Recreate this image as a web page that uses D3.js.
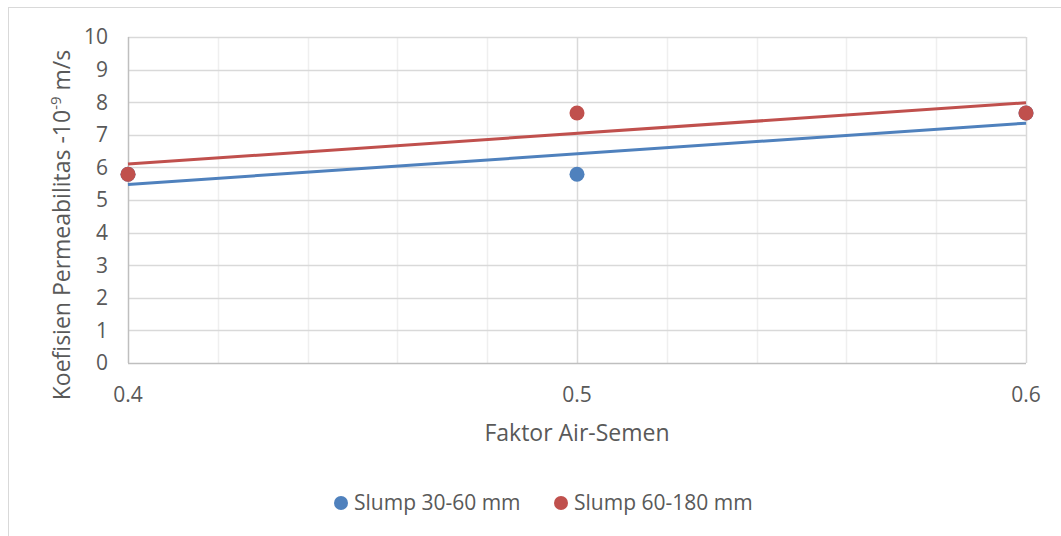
<!DOCTYPE html>
<html lang="id">
<head>
<meta charset="UTF-8">
<title>Koefisien Permeabilitas</title>
<script src="https://cdn.jsdelivr.net/npm/d3@7/dist/d3.min.js"></script>
<style>
  body, html { margin: 0; background: #fff; }
  svg { display: block; font-family: "Open Sans", sans-serif; }
</style>
</head>
<body>
<svg width="1061" height="536"></svg>
<script>
const xValues = [0.4, 0.5, 0.6];
const slump3060 = [5.79, 5.79, 7.67];
const slump60180 = [5.79, 7.67, 7.67];
const seriesNames = ["Slump 30-60 mm", "Slump 60-180 mm"];
const seriesColors = ["#4f81bd", "#c0504d"];
const yTicks = [0,1,2,3,4,5,6,7,8,9,10];
const xLabelTicks = [0.4, 0.5, 0.6];
const xMinorTicks = [0.42,0.44,0.46,0.48,0.52,0.54,0.56,0.58];

(function(){
  const svg = d3.select('svg');
  const W = 1061, H = 536;
  const m = {left:128, right:1026, top:37, bottom:363};
  const x = d3.scaleLinear().domain([0.4,0.6]).range([m.left,m.right]);
  const y = d3.scaleLinear().domain([0,10]).range([m.bottom,m.top]);
  const textCol = '#595959';

  // chart border
  svg.append('rect').attr('x',8.5).attr('y',7.5).attr('width',W+10).attr('height',H+10)
    .attr('fill','#fff').attr('stroke','#d9d9d9').attr('stroke-width',1);

  // minor vertical grid
  svg.append('g').selectAll('line').data(xMinorTicks).join('line')
    .attr('x1',d=>Math.round(x(d))+0.5).attr('x2',d=>Math.round(x(d))+0.5)
    .attr('y1',m.top).attr('y2',m.bottom)
    .attr('stroke','#efefef').attr('stroke-width',1.5);
  // horizontal grid
  svg.append('g').selectAll('line').data(yTicks.slice(1)).join('line')
    .attr('x1',m.left).attr('x2',m.right)
    .attr('y1',d=>Math.round(y(d))+0.5).attr('y2',d=>Math.round(y(d))+0.5)
    .attr('stroke','#d9d9d9').attr('stroke-width',1.5);
  // major vertical grid
  svg.append('g').selectAll('line').data(xLabelTicks.slice(1)).join('line')
    .attr('x1',d=>Math.round(x(d))+0.5).attr('x2',d=>Math.round(x(d))+0.5)
    .attr('y1',m.top).attr('y2',m.bottom)
    .attr('stroke','#d9d9d9').attr('stroke-width',1.5);
  // axes lines
  svg.append('line').attr('x1',m.left+0.5).attr('x2',m.left+0.5).attr('y1',m.top).attr('y2',m.bottom)
    .attr('stroke','#bfbfbf').attr('stroke-width',1.5);
  svg.append('line').attr('x1',m.left).attr('x2',m.right).attr('y1',m.bottom+0.5).attr('y2',m.bottom+0.5)
    .attr('stroke','#bfbfbf').attr('stroke-width',1.5);

  // tick labels
  svg.append('g').selectAll('text').data(yTicks).join('text')
    .attr('x',m.left-20).attr('y',d=>y(d)).attr('dy','0.35em')
    .attr('text-anchor','end').attr('fill',textCol).style('font-size','21px')
    .text(d=>d);
  svg.append('g').selectAll('text').data(xLabelTicks).join('text')
    .attr('x',d=>x(d)).attr('y',m.bottom+39)
    .attr('text-anchor','middle').attr('fill',textCol).style('font-size','21px')
    .text(d=>d3.format('.1f')(d));

  // axis titles
  svg.append('text').attr('x',x(0.5)).attr('y',441).attr('text-anchor','middle')
    .attr('fill',textCol).style('font-size','23px').text('Faktor Air-Semen');
  const yt = svg.append('text').attr('transform','translate(70,225) rotate(-90)')
    .attr('text-anchor','middle').attr('fill',textCol).style('font-size','23px');
  yt.append('tspan').text('Koefisien Permeabilitas -10');
  yt.append('tspan').attr('dy','-9').style('font-size','15px').text('-9');
  yt.append('tspan').attr('dy','9').text(' m/s');

  // data + trendlines
  const seriesData = [slump3060, slump60180];
  function fit(ys){
    const mx = d3.mean(xValues), my = d3.mean(ys);
    const b = d3.sum(xValues,(v,i)=>(v-mx)*(ys[i]-my))/d3.sum(xValues,v=>(v-mx)*(v-mx));
    return [b, my-b*mx];
  }
  const line = d3.line().x(d=>x(d[0])).y(d=>y(d[1]));
  seriesData.forEach((ys,i)=>{
    const [b,a] = fit(ys);
    svg.append('path').datum(x.domain().map(v=>[v,a+b*v])).attr('d',line)
      .attr('fill','none').attr('stroke',seriesColors[i]).attr('stroke-width',3);
  });
  seriesData.forEach((ys,i)=>{
    svg.append('g').selectAll('circle').data(xValues).join('circle')
      .attr('cx',d=>x(d)).attr('cy',(d,j)=>y(ys[j])).attr('r',7.5)
      .attr('fill',seriesColors[i]);
  });

  // legend
  const legX = [341, 561];
  seriesNames.forEach((n,i)=>{
    svg.append('circle').attr('cx',legX[i]).attr('cy',503).attr('r',7).attr('fill',seriesColors[i]);
    svg.append('text').attr('x',legX[i]+13).attr('y',503).attr('dy','0.35em')
      .attr('fill',textCol).style('font-size','21px').text(n);
  });
})();
</script>
</body>
</html>
